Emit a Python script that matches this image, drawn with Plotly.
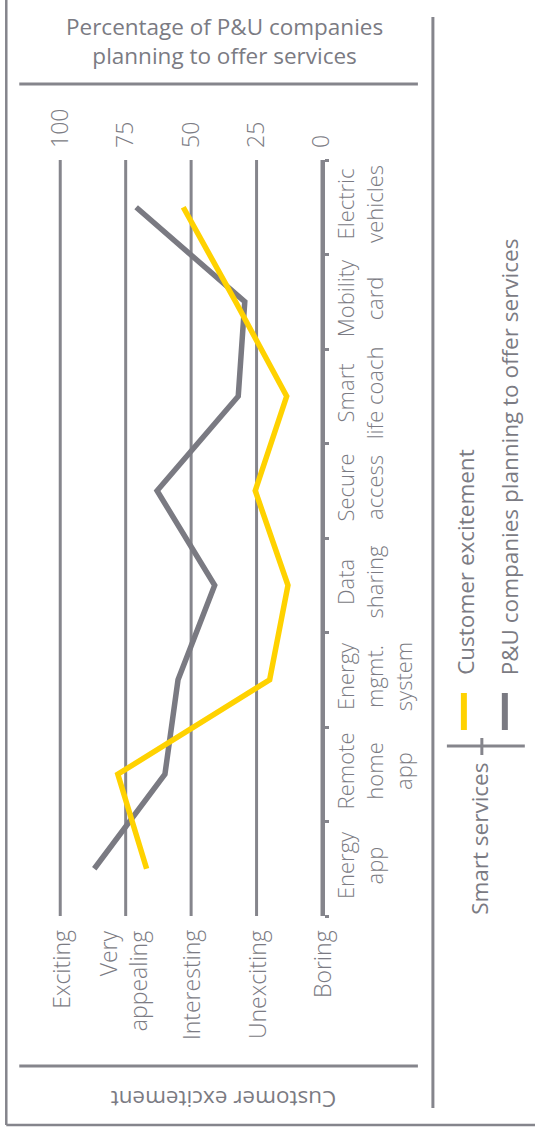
import plotly.graph_objects as go

# ---------------- data ----------------
categories = ["Energy app", "Remote home app", "Energy mgmt. system", "Data sharing",
              "Secure access", "Smart life coach", "Mobility card", "Electric vehicles"]
category_labels = ["Energy<br>app", "Remote<br>home<br>app", "Energy<br>mgmt.<br>system",
                   "Data<br>sharing", "Secure<br>access", "Smart<br>life coach",
                   "Mobility<br>card", "Electric<br>vehicles"]
customer_excitement = [67, 78, 20, 13, 25.5, 13.5, 33, 53]
pu_companies = [87, 60, 55, 41, 63, 32, 29.5, 71]
pct_ticks = [100, 75, 50, 25, 0]
excitement_ticks = ["Exciting", "Very<br>appealing", "Interesting", "Unexciting", "Boring"]
series_names = ["Customer excitement", "P&U companies planning to offer services"]

# ---------------- style ----------------
W, H = 535, 1133
XMAX = 102                      # a little room left of the 100 line
R, T, B = 322, 160, 916
PX_PER_UNIT = 2.62
L = R - XMAX * PX_PER_UNIT
GRID = "#85858c"
TXT = "#7b7b83"
YEL = "#FFD200"
GRY = "#7a7a82"
FONT = "Open Sans"


def X(px):
    return (px - L) / (R - L)


def Y(py):
    return (B - py) / (B - T)


fig = go.Figure()
fig.add_trace(go.Scatter(x=pu_companies, y=categories, mode="lines", name=series_names[1],
                         line=dict(color=GRY, width=5.5)))
fig.add_trace(go.Scatter(x=customer_excitement, y=categories, mode="lines", name=series_names[0],
                         line=dict(color=YEL, width=5.5)))

fig.update_layout(
    width=W, height=H,
    margin=dict(l=L, r=W - R, t=T, b=H - B, pad=0),
    plot_bgcolor="white", paper_bgcolor="white",
    showlegend=False,
    font=dict(family=FONT, color=TXT, weight=300),
    xaxis=dict(range=[XMAX, 0], side="top", tickmode="array", tickvals=pct_ticks,
               tickangle=-90, showgrid=False,
               zeroline=False, showline=False, ticks="", ticklabelstandoff=11,
               tickfont=dict(size=23, color=TXT, family=FONT, weight=300), fixedrange=True),
    yaxis=dict(type="category", categoryorder="array", categoryarray=categories,
               range=[-0.5, len(categories) - 0.5], side="right",
               tickmode="array", tickvals=categories, ticktext=category_labels,
               showline=True, linecolor=GRID, linewidth=3,
               ticks="outside", ticklen=4, tickwidth=2.5, tickcolor=GRID,
               tickson="boundaries", tickangle=-90, showgrid=False, zeroline=False,
               ticklabelstandoff=3,
               tickfont=dict(size=22, color=TXT, family=FONT, weight=300)),
)

# vertical gridlines at the value ticks (through the x scale)
for v in pct_ticks:
    fig.add_shape(type="line", xref="x", yref="paper", x0=v, x1=v, y0=0, y1=1,
                  line=dict(color=GRID, width=3), layer="below")


def line(x0, y0, x1, y1, color=GRID, width=3):
    fig.add_shape(type="line", xref="paper", yref="paper",
                  x0=X(x0), y0=Y(y0), x1=X(x1), y1=Y(y1),
                  line=dict(color=color, width=width), layer="above")


# frame and dividers
line(6, -10, 6, 1125, width=2.5)
line(6, 1125, 545, 1125, width=2.5)
line(433, 17, 433, 1108)
line(19, 84, 418, 84)
line(19, 1066, 418, 1066)
# legend bracket
line(447, 746, 525, 746)
line(482, 738, 482, 755)
# legend symbols
line(464, 693, 464, 730, color=YEL, width=6)
line(505, 693, 505, 730, color=GRY, width=6)

REG = dict(size=22.5, color=TXT, family=FONT, weight=400)
ann = []
# customer excitement scale labels, placed through the x scale
for v, t in zip(pct_ticks, excitement_ticks):
    ann.append(dict(x=v, xref="x", y=Y(928), yref="paper", text=t, textangle=-90,
                    xanchor="center", yanchor="top", align="right", xshift=-3 if "<br>" in t else 0,
                    font=dict(size=23, color=TXT, family=FONT, weight=300)))
ann.append(dict(x=X(224), y=Y(41), text="Percentage of P&U companies<br>planning to offer services",
                font=REG))
ann.append(dict(x=X(223), y=Y(1100), text="Customer excitement", textangle=180, font=REG))
ann.append(dict(x=X(465), y=Y(677), text=series_names[0], textangle=-90, yanchor="bottom",
                font=REG))
ann.append(dict(x=X(510), y=Y(677), text=series_names[1], textangle=-90, yanchor="bottom",
                font=REG))
ann.append(dict(x=X(479), y=Y(839), text="Smart services", textangle=-90, font=REG))
for a in ann:
    a.setdefault("xref", "paper")
    a.setdefault("yref", "paper")
    a["showarrow"] = False
    a.setdefault("xanchor", "center")
    a.setdefault("yanchor", "middle")
fig.update_layout(annotations=ann)

fig.write_html("out.html")
